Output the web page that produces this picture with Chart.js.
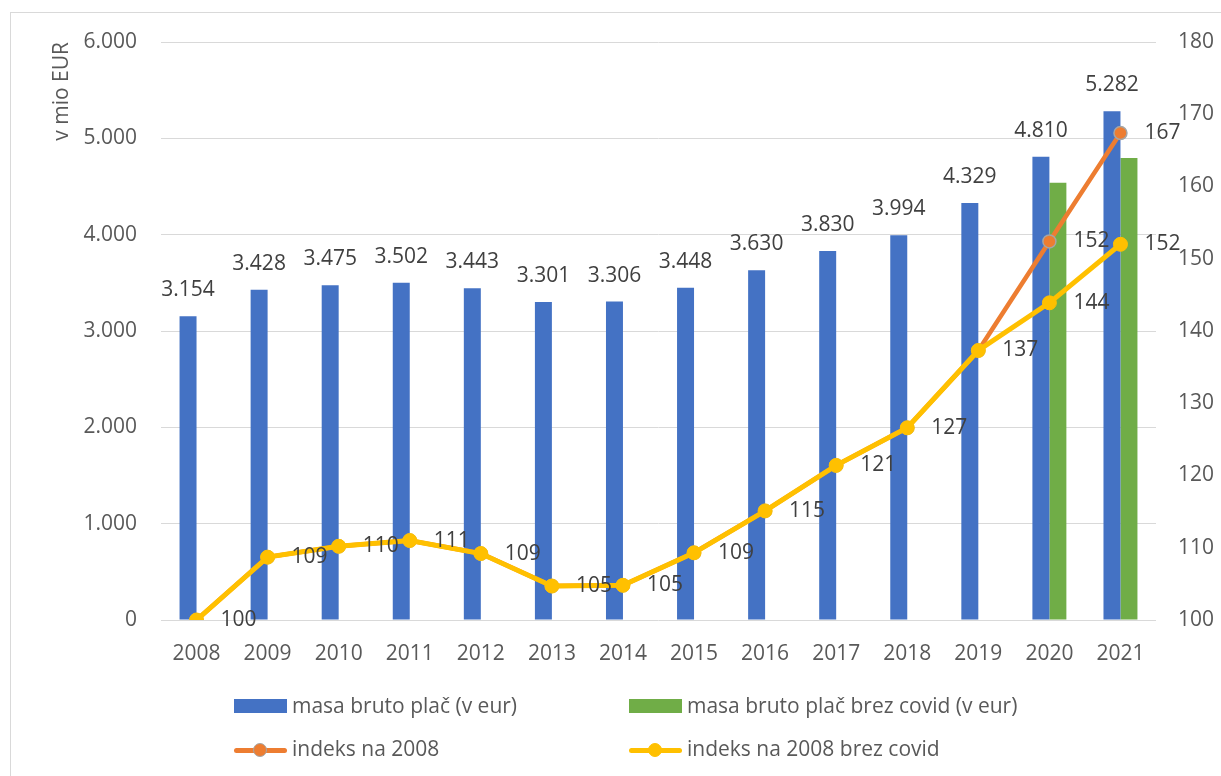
<!DOCTYPE html>
<html>
<head>
<meta charset="utf-8">
<script src="https://cdn.jsdelivr.net/npm/chart.js@4.4.1/dist/chart.umd.min.js"></script>
<style>
body { margin: 0; background: #fff; font-family: 'Open Sans', sans-serif; }
#wrap { position: relative; width: 1221px; height: 776px; overflow: hidden; }
#frame { position: absolute; left: 10px; top: 12px; width: 1240px; height: 800px; border: 1px solid #d9d9d9; pointer-events: none; }
.leg { position: absolute; height: 24px; font-size: 21px; line-height: 24px; color: #595959; white-space: nowrap; }
.sw { position: absolute; left: 0; width: 53px; }
.leg span.t { position: absolute; left: 58px; top: 0; }
</style>
</head>
<body>
<div id="wrap">
  <canvas id="grafico" width="1221" height="776"></canvas>
  <div id="frame"></div>
  <div id="legenda"></div>
</div>
<script>
// podatki
var years = ['2008', '2009', '2010', '2011', '2012', '2013', '2014', '2015', '2016', '2017', '2018', '2019', '2020', '2021'];
var masa = [3154, 3428, 3475, 3502, 3443, 3301, 3306, 3448, 3630, 3830, 3994, 4329, 4810, 5282];
var masaBrezCovid = [null, null, null, null, null, null, null, null, null, null, null, null, 4540, 4795];
var indeks = [100, 108.7, 110.2, 111.0, 109.2, 104.7, 104.8, 109.3, 115.1, 121.4, 126.6, 137.3, 152.4, 167.4];
var indeksBrezCovid = [100, 108.7, 110.2, 111.0, 109.2, 104.7, 104.8, 109.3, 115.1, 121.4, 126.6, 137.3, 143.9, 152.0];
var seriesNames = ['masa bruto plač (v eur)', 'masa bruto plač brez covid (v eur)', 'indeks na 2008', 'indeks na 2008 brez covid'];
var axisTitle = 'v mio EUR';

var FONT = "'Open Sans', sans-serif";
var TXT = '#595959';

// 6000 -> "6.000"
function fmt(v) {
    return String(Math.round(v)).replace(/\B(?=(\d{3})+(?!\d))/g, '.');
}

// oznake podatkov
var labelsPlugin = {
    id: 'oznake',
    afterDatasetsDraw: function (chart) {
        var ctx = chart.ctx;
        ctx.save();
        ctx.font = '21px ' + FONT;
        ctx.fillStyle = '#404040';
        ctx.textBaseline = 'middle';
        // stolpci
        ctx.textAlign = 'center';
        chart.getDatasetMeta(0).data.forEach(function (el, i) {
            ctx.fillText(fmt(masa[i]), el.x, el.y - 26);
        });
        // črte
        ctx.textAlign = 'left';
        chart.getDatasetMeta(3).data.forEach(function (el, i) {
            ctx.fillText(Math.round(indeksBrezCovid[i]), el.x + 24, el.y);
        });
        chart.getDatasetMeta(2).data.forEach(function (el, i) {
            if (Math.round(indeks[i]) === Math.round(indeksBrezCovid[i])) return;
            ctx.fillText(Math.round(indeks[i]), el.x + 24, el.y);
        });
        ctx.restore();
    }
};

var data = {
    labels: years,
    datasets: [{
        type: 'bar',
        label: seriesNames[0],
        data: masa,
        backgroundColor: '#4472C4',
        yAxisID: 'y',
        order: 2,
        categoryPercentage: 0.478,
        barPercentage: 1.0
    }, {
        type: 'bar',
        label: seriesNames[1],
        data: masaBrezCovid,
        backgroundColor: '#70AD47',
        yAxisID: 'y',
        order: 2,
        categoryPercentage: 0.478,
        barPercentage: 1.0
    }, {
        type: 'line',
        label: seriesNames[2],
        data: indeks,
        borderColor: '#ED7D31',
        backgroundColor: '#ED7D31',
        borderWidth: 4.5,
        pointRadius: 6.5,
        pointBackgroundColor: '#ED7D31',
        pointBorderColor: '#A5A5A5',
        pointBorderWidth: 1.5,
        yAxisID: 'y1',
        order: 1
    }, {
        type: 'line',
        label: seriesNames[3],
        data: indeksBrezCovid,
        borderColor: '#FFC000',
        backgroundColor: '#FFC000',
        borderWidth: 5,
        pointRadius: 7,
        pointBackgroundColor: '#FFC000',
        pointBorderColor: '#FFC000',
        pointBorderWidth: 1,
        yAxisID: 'y1',
        order: 0
    }]
};

var options = {
    responsive: false,
    animation: false,
    devicePixelRatio: 1,
    layout: { padding: { top: 42, bottom: 106, left: 0, right: 0 } },
    plugins: { legend: { display: false }, tooltip: { enabled: false } },
    scales: {
        x: {
            grid: { display: false },
            border: { display: false },
            ticks: { color: TXT, font: { family: FONT, size: 21 }, padding: 13, maxRotation: 0 },
            afterFit: function (s) { s.height = 50; }
        },
        y: {
            position: 'left',
            min: 0,
            max: 6000,
            ticks: { stepSize: 1000, color: TXT, font: { family: FONT, size: 21 }, padding: 24, callback: function (v) { return fmt(v); } },
            grid: { color: '#d9d9d9', lineWidth: 1, drawTicks: false },
            border: { display: false },
            title: { display: true, text: axisTitle, align: 'end', color: TXT, font: { family: FONT, size: 21 }, padding: { top: 49 } },
            afterFit: function (s) { s.width = 161; }
        },
        y1: {
            position: 'right',
            min: 100,
            max: 180,
            ticks: { stepSize: 10, color: TXT, font: { family: FONT, size: 21 }, padding: 22 },
            grid: { display: false, drawTicks: false },
            border: { display: false },
            afterFit: function (s) { s.width = 65; }
        }
    }
};

var ctx = document.querySelector('#grafico');
var chart = new Chart(ctx, {
    data: data,
    options: options,
    plugins: [labelsPlugin]
});

// legenda (dva stolpca)
var legPos = [[234, 693], [629, 693], [234, 736], [629, 736]];
var leg = document.querySelector('#legenda');
chart.data.datasets.forEach(function (ds, i) {
    var d = document.createElement('div');
    d.className = 'leg';
    d.style.left = legPos[i][0] + 'px';
    d.style.top = legPos[i][1] + 'px';
    var sw = '';
    if (ds.type === 'bar') {
        sw = '<div class="sw" style="top:6px;height:14px;background:' + ds.backgroundColor + '"></div>';
    } else {
        sw = '<div class="sw" style="top:12px;height:5px;border-radius:3px;background:' + ds.borderColor + '"></div>' +
            '<div style="position:absolute;left:19px;top:7px;width:12px;height:12px;border-radius:50%;background:' +
            ds.pointBackgroundColor + ';border:1.5px solid ' + ds.pointBorderColor + '"></div>';
    }
    d.innerHTML = sw + '<span class="t">' + ds.label + '</span>';
    leg.appendChild(d);
});
</script>
</body>
</html>
